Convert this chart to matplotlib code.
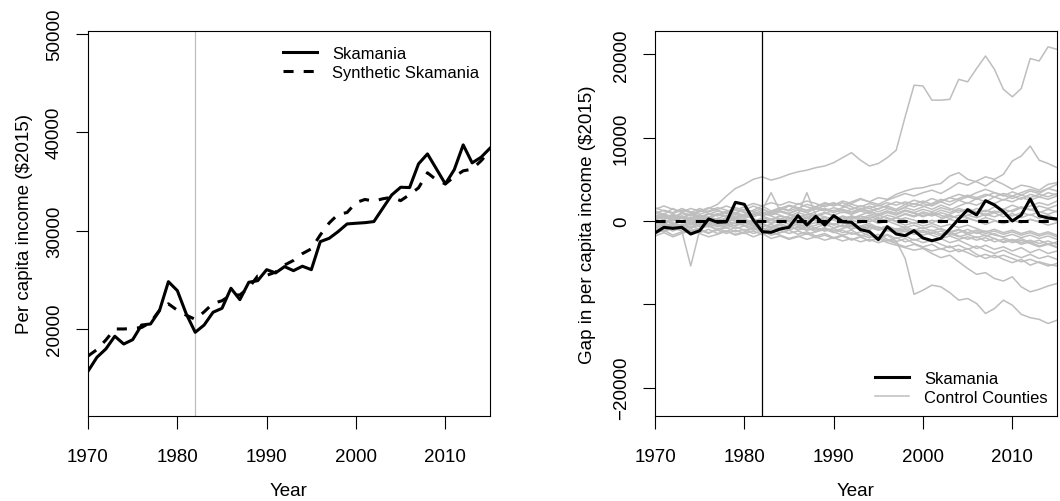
import matplotlib
matplotlib.use("Agg")
import matplotlib.pyplot as plt

plt.rcParams['font.family'] = ['Liberation Sans', 'DejaVu Sans']

years = list(range(1970, 2016))
treatment_year = 1982

# Per capita income, Skamania County and its synthetic counterpart ($2015)
skamania = [
    15700, 17120, 17970, 19260, 18470, 18910, 20400, 20510, 21860, 24810,
    23900, 21530, 19660, 20400, 21700, 22100, 24140, 22980, 24750, 24910,
    26030, 25700, 26340, 25930, 26380, 26030, 28880, 29220, 29900, 30680,
    30750, 30810, 30920, 32280, 33630, 34410, 34380, 36790, 37800, 36280,
    34750, 36200, 38720, 36890, 37460, 38380,
]
synthetic_skamania = [
    17250, 17900, 18880, 20000, 20000, 20050, 20150, 20670, 21900, 22560,
    21900, 21400, 20980, 21740, 22600, 22870, 23450, 23460, 24190, 25390,
    25450, 25780, 26500, 26970, 27660, 28150, 29560, 30780, 31660, 31840,
    32850, 33170, 33000, 33240, 33390, 33050, 33660, 34350, 35880, 35160,
    34750, 35480, 36080, 36250, 37100, 38140,
]

# Gap between actual and synthetic income for Skamania
skamania_gap = [
    -1440, -760, -880, -760, -1560, -1160, 250, -160, -100, 2240,
    2000, 130, -1280, -1360, -960, -760, 640, -480, 560, -480,
    640, -80, -160, -1040, -1280, -2240, -680, -1560, -1760, -1160,
    -2040, -2360, -2080, -960, 240, 1360, 720, 2440, 1920, 1120,
    0, 720, 2640, 640, 360, 240,
]

# Placebo gaps for the control counties
control_01 = [400, 700, 300, 900, 600, 1100, 1500, 2000, 3000, 3900,
              4400, 5000, 5300, 4900, 5200, 5600, 5900, 6100, 6400, 6600,
              7000, 7600, 8200, 7300, 6600, 6900, 7600, 8500, 12500, 16300,
              16200, 14500, 14500, 14600, 17000, 16700, 18300, 19800, 18200, 15800,
              14900, 15900, 19500, 19200, 20900, 20600]
control_02 = [-300, 200, 600, 300, 800, 500, 900, 700, 1200, 900,
              1400, 1100, 1500, 900, 1300, 1800, 1500, 2000, 1700, 2200,
              1900, 2400, 2100, 2600, 2300, 2000, 2500, 2900, 3300, 3000,
              3400, 3700, 3300, 3900, 4600, 4300, 4800, 5300, 5000, 5600,
              7200, 7800, 9000, 7300, 6900, 6400]
control_03 = [200, -400, 100, 600, 200, -200, 400, 800, 500, 1000,
              700, 1300, 1800, 1200, 1600, 1300, 2100, 1700, 1400, 1900,
              2200, 1800, 2300, 2700, 2300, 2800, 2600, 3200, 3600, 3900,
              4000, 4300, 4500, 5400, 5800, 5000, 4700, 4200, 4900, 4400,
              3800, 4300, 4100, 3700, 4400, 4600]
control_04 = [-400, -100, 300, -200, 100, -500, -300, 200, -100, 400,
              100, -300, -700, -400, -900, -600, -1100, -800, -1300, -1000,
              -1400, -1100, -1600, -1300, -1800, -2100, -1700, -2400, -4500, -8800,
              -8300, -7700, -7900, -8600, -9500, -9300, -9900, -11100, -10500, -9500,
              -10100, -11200, -11600, -11800, -12300, -11900]
control_05 = [-800, -500, -1000, -700, -1200, -900, -600, -1100, -800, -1300,
              -1000, -1500, -1200, -1700, -1400, -1100, -1600, -1300, -1800, -1500,
              -2000, -1700, -2200, -1900, -2400, -2100, -2600, -2900, -3200, -3500,
              -3300, -3900, -4400, -4100, -4900, -5700, -6400, -6200, -6900, -7200,
              -6700, -7900, -8500, -8200, -7800, -7500]
control_06 = [300, 600, 0, 400, -300, 100, 500, 200, -200, 300,
              -100, -600, -300, -800, -500, -1000, -700, -400, -900, -1200,
              -900, -1400, -1100, -1700, -2000, -1600, -2200, -2500, -2100, -2700,
              -3100, -2800, -3400, -3000, -3700, -3300, -4000, -4500, -4100, -4600,
              -5000, -4600, -5300, -4900, -5200, -5400]
control_07 = [-900, -1300, -800, -1200, -5400, -1100, -1500, -900, -1300, -700,
              -1100, -800, -1200, -900, -500, -1000, -700, -1100, -800, -400,
              -800, -500, -1000, -600, -300, -800, -1200, -900, -1300, -1000,
              -1400, -1100, -1600, -1300, -1800, -2200, -1900, -2400, -2100, -2600,
              -2300, -2800, -2500, -3000, -2700, -3100]
control_08 = [600, 900, 400, 1000, 700, 300, 800, 1200, 900, 1400,
              1100, 800, 1300, 3400, 1200, 900, 1400, 1000, 1500, 1200,
              1600, 1300, 900, 1400, 1100, 1500, 1800, 1400, 2000, 1700,
              2100, 1800, 2300, 1900, 2500, 2100, 2700, 2300, 2900, 2500,
              3000, 2600, 3200, 2900, 3400, 3100]
control_09 = [-200, 100, -400, 0, -300, 200, -100, 300, 0, -300,
              200, -100, 400, 100, 600, 300, 800, 3400, 700, 1000,
              700, 1100, 800, 1200, 900, 600, 1000, 700, 1200, 900,
              500, 900, 400, 800, 1300, 1000, 1500, 1100, 1700, 1400,
              1900, 1500, 1800, 2200, 1900, 2400]
control_10 = [1200, 800, 1500, 1000, 700, 1300, 900, 600, 1100, 1600,
              1300, 1800, 1400, 1000, 1500, 1900, 1600, 1200, 1700, 2100,
              1800, 2200, 1700, 1300, 1800, 1400, 1900, 2300, 2000, 2500,
              2200, 2700, 2300, 2800, 3200, 2900, 3400, 3800, 3400, 3000,
              3500, 3100, 3600, 3300, 3900, 3600]
control_11 = [-1500, -1100, -1700, -1300, -900, -1400, -1000, -1500, -1200, -1700,
              -1400, -1900, -1500, -2100, -1800, -2200, -1900, -1500, -2000, -1700,
              -2100, -1800, -2300, -1900, -2400, -2000, -1600, -2100, -1800, -2300,
              -2000, -2500, -2100, -2600, -2300, -2800, -3300, -2900, -3400, -3100,
              -3600, -3200, -3800, -3400, -3900, -3600]
control_12 = [500, 200, 700, 400, 900, 600, 300, 800, 500, 200,
              600, 300, -200, 200, -100, 400, 100, 500, 200, -200,
              300, 0, 400, 100, 500, 200, 700, 400, 900, 600,
              1100, 800, 1300, 1000, 1500, 1200, 800, 1300, 1000, 1400,
              1100, 1600, 1300, 1800, 1500, 1900]
control_13 = [-600, -300, -800, -500, -100, -600, -300, -700, -400, -900,
              -600, -1100, -800, -1300, -900, -500, -1000, -700, -1100, -800,
              -1200, -900, -600, -1000, -700, -1100, -800, -1300, -1000, -1400,
              -1100, -1500, -1200, -1700, -1400, -1000, -1500, -1200, -1700, -1900,
              -1600, -2000, -1700, -2100, -1800, -2200]
control_14 = [900, 1300, 1000, 1500, 1100, 800, 1200, 1600, 1300, 900,
              500, 900, 600, 1000, 700, 300, 700, 400, 800, 500,
              100, 500, 200, 600, 300, 700, 400, 0, 400, 100,
              -300, 100, -200, 200, -100, 300, 0, -400, 0, -300,
              100, -200, 200, -100, 300, 0]
control_15 = [0, -300, 200, -100, 300, 0, -400, -100, 300, 0,
              -300, 100, -200, 200, -100, 300, 0, 400, 100, 500,
              200, 600, 300, 700, 1100, 800, 1200, 900, 1300, 1000,
              1400, 1100, 1600, 1300, 1800, 2200, 1900, 2400, 2100, 2600,
              2300, 2800, 2500, 2900, 2600, 3000]
control_16 = [-1100, -700, -1200, -800, -1300, -900, -500, -1000, -600, -200,
              -600, -200, 200, -200, 300, -100, -500, -100, 300, 0,
              -400, -100, -500, -200, 200, -300, 0, -400, -800, -500,
              -900, -600, -1000, -1400, -1100, -1600, -1300, -1800, -1500, -2000,
              -2400, -2100, -2600, -2300, -2800, -2500]
control_17 = [1600, 1200, 900, 1300, 1000, 1500, 1100, 1400, 1800, 1400,
              1000, 600, 1000, 700, 1100, 800, 400, 800, 500, 900,
              1300, 1000, 1400, 1800, 1500, 1900, 1600, 1200, 1700, 2100,
              1800, 1400, 1900, 1500, 1000, 1500, 1100, 600, 1000, 500,
              900, 400, 800, 300, 700, 200]
control_18 = [-300, 100, -200, -600, -300, -700, -400, 0, -400, -100,
              -500, -800, -400, -700, -1100, -1500, -1200, -1600, -1300, -900,
              -1300, -1700, -1400, -1800, -1500, -1900, -2400, -2000, -2500, -2200,
              -2600, -2300, -2800, -3200, -2900, -3400, -3000, -3500, -3900, -3500,
              -4000, -4400, -4000, -4500, -4200, -4600]
control_19 = [700, 400, 800, 500, 100, 500, 200, -200, 200, 600,
              300, 700, 1100, 800, 1200, 900, 1300, 1000, 600, 1000,
              600, 200, 600, 300, -100, 300, 0, 400, 100, -300,
              100, -200, 200, 600, 300, 700, 1100, 800, 1200, 900,
              1300, 1700, 1400, 1000, 1400, 1100]
control_20 = [-1800, -1400, -1900, -1500, -1100, -1500, -1900, -1600, -1200, -1600,
              -1300, -900, -1300, -1000, -1400, -1100, -700, -1100, -800, -1200,
              -900, -500, -900, -600, -1000, -700, -1100, -1500, -1200, -1600,
              -1300, -1700, -2100, -1800, -2200, -1900, -2300, -2000, -2500, -2200,
              -2600, -2300, -2700, -3100, -2800, -3200]
control_21 = [300, 700, 400, 0, 400, 100, 500, 900, 600, 1000,
              1400, 1100, 700, 1100, 1500, 1200, 1600, 1300, 1700, 1400,
              1000, 1400, 1100, 1500, 1200, 800, 1200, 900, 1300, 1000,
              600, 1000, 700, 300, 700, 400, 0, 400, 100, -300,
              100, -200, 200, -100, -500, -200]
control_22 = [-500, -900, -600, -1000, -700, -300, -700, -400, -800, -500,
              -100, -500, -200, 200, -200, 100, -300, 0, 400, 100,
              500, 200, 600, 300, 700, 400, 0, 400, 800, 500,
              900, 600, 1000, 700, 300, 700, 400, 800, 500, 900,
              600, 1000, 700, 1100, 800, 1200]
control_23 = [1000, 600, 200, 600, 300, 700, 400, 0, 400, 800,
              500, 900, 600, 200, 600, 300, -100, 300, 0, 400,
              100, -300, 100, -200, 200, -100, 300, -100, -500, -200,
              -600, -300, -700, -400, -800, -500, -900, -1300, -1000, -1400,
              -1100, -1500, -1200, -1600, -1300, -1700]
control_24 = [-200, -600, -300, -700, -400, 0, -400, -100, -500, -200,
              200, -200, 100, -300, 0, -400, -100, -500, -200, -600,
              -300, -700, -400, -800, -500, -900, -600, -1000, -700, -1100,
              -800, -1200, -900, -1300, -1000, -1400, -1100, -1500, -1200, -1600,
              -1300, -1700, -1400, -1800, -1500, -1900]
control_25 = [1400, 1800, 1400, 1100, 1500, 1200, 1600, 1300, 900, 1300,
              1700, 2100, 1800, 2200, 1900, 2300, 2000, 2400, 2100, 1700,
              2100, 1800, 1400, 1800, 1500, 1100, 1500, 1200, 1600, 1300,
              1700, 2100, 2600, 2300, 2700, 3100, 2800, 3200, 2900, 3300,
              3000, 3400, 3800, 3500, 3900, 4400]
control_26 = [-1300, -900, -500, -900, -600, -1000, -1400, -1100, -1500, -1100,
              -1500, -1200, -1600, -1300, -1700, -2100, -1800, -2200, -1900, -2300,
              -2000, -2400, -2100, -2500, -2200, -2600, -2300, -2700, -3100, -2800,
              -3200, -3600, -3300, -3700, -3400, -3800, -4300, -4000, -4400, -4100,
              -4500, -4900, -4600, -5000, -5400, -5100]
control_27 = [100, 500, 100, 400, 0, 300, -100, 300, 700, 400,
              800, 500, 900, 600, 200, 600, 1000, 700, 1100, 1500,
              1200, 1600, 2000, 1700, 2100, 1800, 2200, 1900, 2300, 2000,
              2400, 2000, 2400, 2800, 2500, 2900, 2600, 3000, 3400, 3100,
              2700, 3100, 2800, 3200, 2900, 3300]
control_28 = [-700, -1100, -800, -400, -800, -500, -100, -500, -200, -600,
              -200, -600, -1000, -700, -300, -700, -400, -800, -500, -100,
              -500, -200, -600, -1000, -700, -1100, -800, -1200, -900, -1300,
              -1700, -1400, -1800, -1500, -1900, -1600, -2000, -1700, -2100, -2500,
              -2200, -2600, -2300, -2700, -2400, -2800]

control_gaps = [
    control_01, control_02, control_03, control_04, control_05, control_06, control_07,
    control_08, control_09, control_10, control_11, control_12, control_13, control_14,
    control_15, control_16, control_17, control_18, control_19, control_20, control_21,
    control_22, control_23, control_24, control_25, control_26, control_27, control_28,
]

W, H = 1060, 502
fig = plt.figure(figsize=(W / 100, H / 100), dpi=100)

GREY = '#bebebe'
LW = 2.2
DASH = (3.3, 3.3)
TICK_FS = 13.5
LEG_FS = 11.9


def panel(x0, x1, y0, y1):
    return fig.add_axes([x0 / W, 1 - y1 / H, (x1 - x0) / W, (y1 - y0) / H])


def style(ax):
    for s in ax.spines.values():
        s.set_linewidth(0.8)
        s.set_color('black')
    ax.tick_params(direction='out', length=9, width=0.8, labelsize=TICK_FS,
                   top=False, right=False)
    ax.tick_params(axis='x', pad=14)
    ax.tick_params(axis='y', pad=9)
    ax.set_xlim(1970, 2015)
    ax.set_xticks([1970, 1980, 1990, 2000, 2010])
    ax.set_xlabel('Year', fontsize=TICK_FS, labelpad=12)


# Left: actual vs synthetic income
ax1 = panel(88, 490, 32, 417)
style(ax1)
ax1.set_ylim(11150, 50300)
ax1.set_yticks([20000, 30000, 40000, 50000])
ax1.set_yticklabels(['20000', '30000', '40000', '50000'], rotation=90, va='center')
ax1.axvline(treatment_year, color=GREY, lw=0.9, zorder=1)
ax1.plot(years, skamania, color='black', lw=LW, label='Skamania', zorder=3)
ax1.plot(years, synthetic_skamania, color='black', lw=LW, dashes=DASH,
         label='Synthetic Skamania', zorder=3)
ax1.set_ylabel('Per capita income ($2015)', fontsize=TICK_FS, labelpad=9)
ax1.legend(loc='upper left', bbox_to_anchor=(283 / W, 1 - 47 / H),
           bbox_transform=fig.transFigure, frameon=False, borderpad=0,
           borderaxespad=0, handlelength=2.07, handletextpad=0.9,
           labelspacing=0.22, fontsize=LEG_FS)

# Right: gaps for Skamania and placebo counties
ax2 = panel(655, 1057, 32, 417)
style(ax2)
ax2.set_ylim(-23400, 22800)
ax2.set_yticks([-20000, -10000, 0, 10000, 20000])
ax2.set_yticklabels(['\u221220000', '', '0', '10000', '20000'], rotation=90, va='center')
for i, g in enumerate(control_gaps):
    ax2.plot(years, g, color=GREY, lw=1.1, zorder=2,
             label='Control Counties' if i == 0 else None)
ax2.axhline(0, color='black', lw=LW, dashes=DASH, zorder=3)
ax2.axvline(treatment_year, color='black', lw=0.9, zorder=3)
ax2.plot(years, skamania_gap, color='black', lw=LW, zorder=4, label='Skamania')
ax2.set_ylabel('Gap in per capita income ($2015)', fontsize=TICK_FS, labelpad=12)
h, l = ax2.get_legend_handles_labels()
order = [l.index('Skamania'), l.index('Control Counties')]
ax2.legend([h[i] for i in order], [l[i] for i in order], loc='upper left',
           bbox_to_anchor=(875 / W, 1 - 372 / H), bbox_transform=fig.transFigure,
           frameon=False, borderpad=0, borderaxespad=0, handlelength=2.07,
           handletextpad=0.9, labelspacing=0.22, fontsize=LEG_FS)

fig.savefig('out.png', dpi=100)
